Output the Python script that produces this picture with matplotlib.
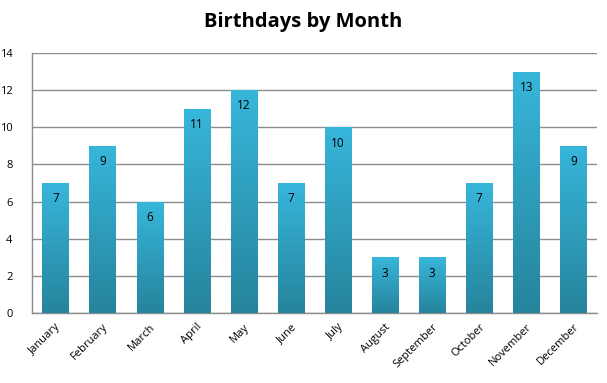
import matplotlib
matplotlib.use("Agg")
import matplotlib.pyplot as plt
import numpy as np
from matplotlib.colors import LinearSegmentedColormap

months = ["January", "February", "March", "April", "May", "June", "July",
          "August", "September", "October", "November", "December"]
counts = [7, 9, 6, 11, 12, 7, 10, 3, 3, 7, 13, 9]
yticks = [0, 2, 4, 6, 8, 10, 12, 14]

plt.rcParams['font.family'] = ['Open Sans', 'DejaVu Sans']

fig = plt.figure(figsize=(6.07, 3.83), dpi=100)
ax = fig.add_axes([32/607, 1 - 313/383, (597-32)/607, (313-53)/383])

x = np.arange(len(months))
bars = ax.bar(x, counts, width=0.56, color="#2f9fc0", zorder=2)

ax.set_xlim(-0.5, len(months) - 0.5)
ax.set_ylim(0, 14)

cmap = LinearSegmentedColormap.from_list("g", ["#26849c", "#37b6db"])
grad = np.linspace(0, 1, 256).reshape(-1, 1)
for b in bars:
    x0, y0 = b.get_x(), b.get_y()
    w, h = b.get_width(), b.get_height()
    im = ax.imshow(grad, cmap=cmap, origin="lower", aspect="auto",
                   extent=[x0, x0 + w, y0, y0 + h], zorder=3,
                   interpolation="bilinear")
    im.set_clip_path(b)

for xi, v in zip(x, counts):
    ax.text(xi, v - 0.85, str(v), ha="center", va="center", fontsize=8.5,
            color="black", zorder=4)

ax.set_yticks(yticks)
ax.set_yticklabels([str(t) for t in yticks], fontsize=8)
ax.set_xticks(x)
ax.set_xticklabels(months, rotation=45, ha="right", rotation_mode="anchor",
                   fontsize=8)
ax.tick_params(axis="both", length=0)
ax.tick_params(axis="y", pad=14)
ax.tick_params(axis="x", pad=6)
ax.grid(axis="y", color="#8c8c8c", linewidth=1, zorder=1)
ax.set_axisbelow(True)
for s in ["top", "right"]:
    ax.spines[s].set_visible(False)
for s in ["left", "bottom"]:
    ax.spines[s].set_color("#8c8c8c")
    ax.spines[s].set_linewidth(1)

fig.text(0.5, 1 - 22/383, "Birthdays by Month", ha="center", va="center",
         fontsize=14.5, fontweight="bold")

fig.savefig("out.png", dpi=100)
